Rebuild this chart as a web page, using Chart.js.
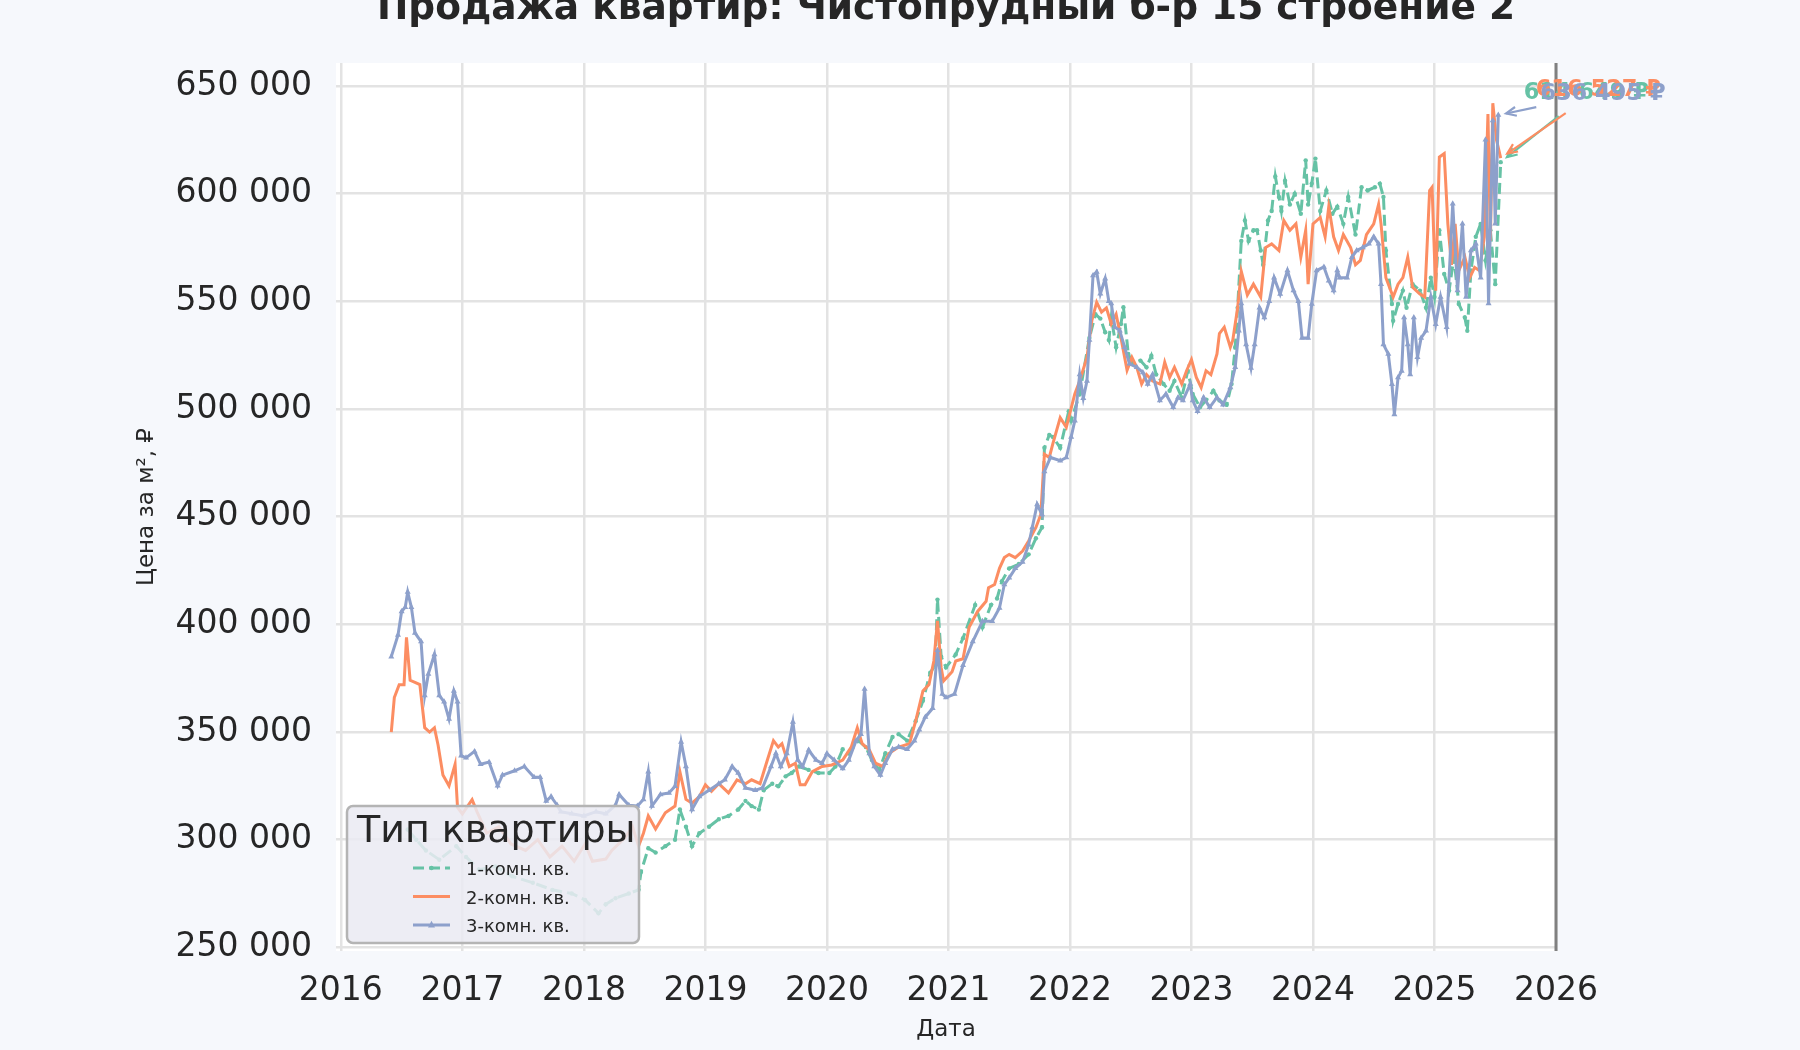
<!DOCTYPE html>
<html lang="ru">
<head>
<meta charset="utf-8">
<title>Продажа квартир: Чистопрудный б-р 15 строение 2</title>
<script src="https://cdn.jsdelivr.net/npm/chart.js@4.4.1/dist/chart.umd.min.js"></script>
<style>
    html, body { margin: 0; padding: 0; background: #f6f8fc; }
    #wrap { width: 1800px; height: 1050px; position: relative; }
</style>
</head>
<body>
<div id="wrap"><canvas id="priceChart" width="1800" height="1050"></canvas></div>
<script>
// Данные (год в долях, цена за м² в рублях)

const seriesNames = ['1-комн. кв.', '2-комн. кв.', '3-комн. кв.'];

const yearsOne = [2016.55,2016.62,2016.70,2016.81,2016.95,2017.03,2017.14,2017.27,2017.41,2017.58,
    2017.74,2017.90,2018.01,2018.12,2018.18,2018.26,2018.37,2018.45,2018.47,2018.53,
    2018.59,2018.67,2018.75,2018.79,2018.84,2018.89,2018.95,2019.03,2019.11,2019.19,
    2019.27,2019.33,2019.38,2019.44,2019.48,2019.55,2019.60,2019.66,2019.71,2019.77,
    2019.85,2019.93,2020.02,2020.07,2020.13,2020.18,2020.26,2020.32,2020.37,2020.43,
    2020.48,2020.54,2020.59,2020.66,2020.73,2020.79,2020.85,2020.89,2020.91,2020.94,
    2020.98,2021.06,2021.12,2021.22,2021.28,2021.35,2021.40,2021.44,2021.50,2021.58,
    2021.66,2021.72,2021.77,2021.79,2021.83,2021.86,2021.92,2021.99,2022.01,2022.08,
    2022.16,2022.21,2022.25,2022.29,2022.32,2022.34,2022.38,2022.42,2022.44,2022.48,
    2022.52,2022.58,2022.63,2022.67,2022.71,2022.77,2022.82,2022.86,2022.92,2022.97,
    2023.01,2023.07,2023.12,2023.18,2023.23,2023.29,2023.33,2023.36,2023.38,2023.41,
    2023.44,2023.47,2023.51,2023.54,2023.57,2023.59,2023.63,2023.66,2023.69,2023.72,
    2023.74,2023.77,2023.81,2023.85,2023.90,2023.94,2023.96,2023.99,2024.02,2024.06,
    2024.11,2024.16,2024.20,2024.25,2024.29,2024.35,2024.40,2024.45,2024.51,2024.55,
    2024.58,2024.60,2024.65,2024.66,2024.70,2024.74,2024.77,2024.82,2024.88,2024.93,
    2024.97,2025.00,2025.04,2025.08,2025.12,2025.16,2025.20,2025.25,2025.27,2025.30,
    2025.34,2025.38,2025.42,2025.46,2025.50,2025.545];
const pricesOne = [304700,300000,295000,290700,297000,292000,286000,287600,283000,280000,
    276700,275000,272000,265800,270000,272800,275000,276700,285000,296000,
    294000,297000,300000,314000,306000,297000,303000,306000,309500,311000,
    314000,318000,315600,314000,323000,326000,324800,329400,331000,334000,
    332400,331000,331000,334000,342000,340000,346000,343000,337000,332400,
    340000,347700,349000,346000,355000,364500,377500,381000,411500,385000,
    380000,386000,393600,409000,398600,409000,412000,420000,426000,428000,
    432500,440000,445000,482000,488000,487000,482000,499000,494600,507000,
    533000,544000,542000,535700,532000,542600,528700,539500,547300,525600,
    521000,522500,519400,524800,516000,511600,508500,513000,505400,517800,
    507000,500800,504000,508500,504000,502000,511600,528700,547000,578000,
    587600,578000,583000,583000,573600,567000,587600,592000,608000,598500,
    592000,606000,595000,600000,590700,615500,595000,604700,616300,592000,
    601500,590700,594000,586000,598500,581000,603000,601500,603000,604700,
    598500,573600,548800,541000,548800,555000,547000,558000,555000,547000,
    561000,552000,583000,562700,555000,570500,548800,542500,536300,564300,
    580000,586000,569000,583000,558000,614649];

const yearsTwo = [2016.415,2016.44,2016.48,2016.52,2016.54,2016.57,2016.61,2016.65,2016.69,2016.73,
    2016.77,2016.80,2016.84,2016.89,2016.94,2016.96,2017.00,2017.08,2017.12,2017.20,
    2017.30,2017.40,2017.52,2017.62,2017.72,2017.82,2017.92,2018.01,2018.07,2018.18,
    2018.23,2018.34,2018.40,2018.45,2018.49,2018.53,2018.59,2018.67,2018.75,2018.79,
    2018.84,2018.89,2018.95,2019.00,2019.05,2019.11,2019.19,2019.26,2019.33,2019.38,
    2019.45,2019.51,2019.56,2019.60,2019.63,2019.69,2019.74,2019.78,2019.82,2019.88,
    2019.96,2020.04,2020.13,2020.20,2020.25,2020.29,2020.35,2020.40,2020.46,2020.51,
    2020.59,2020.68,2020.73,2020.79,2020.84,2020.88,2020.91,2020.94,2020.96,2021.03,
    2021.06,2021.12,2021.17,2021.24,2021.31,2021.33,2021.38,2021.42,2021.46,2021.50,
    2021.55,2021.61,2021.66,2021.72,2021.76,2021.79,2021.83,2021.86,2021.92,2021.97,
    2022.04,2022.08,2022.14,2022.18,2022.22,2022.26,2022.30,2022.34,2022.38,2022.42,
    2022.47,2022.51,2022.55,2022.59,2022.63,2022.68,2022.74,2022.78,2022.82,2022.86,
    2022.92,2022.96,2023.00,2023.04,2023.08,2023.12,2023.16,2023.21,2023.23,2023.27,
    2023.32,2023.34,2023.38,2023.41,2023.46,2023.51,2023.57,2023.61,2023.66,2023.72,
    2023.76,2023.81,2023.86,2023.90,2023.94,2023.96,2024.00,2024.06,2024.10,2024.13,
    2024.17,2024.21,2024.25,2024.31,2024.35,2024.39,2024.44,2024.50,2024.54,2024.56,
    2024.60,2024.66,2024.70,2024.74,2024.78,2024.82,2024.88,2024.92,2024.96,2024.98,
    2025.01,2025.04,2025.08,2025.11,2025.14,2025.17,2025.20,2025.25,2025.29,2025.33,
    2025.37,2025.41,2025.44,2025.46,2025.48,2025.51,2025.545];
const pricesTwo = [350000,366000,372000,372000,394000,374000,373000,372000,352000,350000,
    352000,344000,330000,325000,335000,315000,312000,318600,313000,303000,
    306000,298000,295000,300000,292000,297000,290000,298000,290000,291000,
    295000,301000,306000,297000,303000,311000,305000,312500,315600,331600,
    318700,317000,320000,325500,322500,326000,321700,327800,326000,327800,
    326000,337000,346000,343000,344600,334000,335500,325500,325500,331600,
    334000,334700,337000,343000,352000,344600,341600,335500,334000,340000,
    343000,344600,355000,369000,372000,383000,401600,380000,373700,378000,
    383000,384000,398600,406000,410700,417000,418500,426000,431000,432500,
    431000,434000,438700,445000,451000,479000,477500,484000,496000,491500,
    507000,513000,524000,541000,549600,545000,547000,539500,544000,533000,
    518000,524000,519400,511600,516000,513000,511600,521700,514700,519400,
    511600,517800,523000,514700,510000,517800,516000,525600,535000,538000,
    528700,532000,547000,564000,553000,558000,552000,575000,576700,573600,
    587600,583000,586000,570500,583000,558000,586000,589000,580000,594000,
    580000,573600,581000,575000,567000,569000,581000,586000,595000,586000,
    561000,552000,558000,561000,570500,556500,553400,552000,601500,603000,
    555000,617000,618600,586000,567000,586000,564300,570500,561000,565800,
    564300,580000,637000,578000,642000,625000,616527];

const yearsThree = [2016.415,2016.47,2016.50,2016.53,2016.55,2016.58,2016.61,2016.66,2016.69,2016.72,
    2016.77,2016.81,2016.85,2016.89,2016.93,2016.96,2016.99,2017.03,2017.10,2017.15,
    2017.22,2017.29,2017.33,2017.43,2017.51,2017.59,2017.64,2017.69,2017.73,2017.78,
    2017.81,2017.90,2018.00,2018.10,2018.18,2018.26,2018.29,2018.37,2018.44,2018.49,
    2018.53,2018.56,2018.63,2018.70,2018.75,2018.80,2018.84,2018.89,2018.95,2019.03,
    2019.11,2019.16,2019.22,2019.27,2019.33,2019.41,2019.47,2019.54,2019.58,2019.62,
    2019.67,2019.72,2019.76,2019.80,2019.85,2019.91,2019.96,2020.00,2020.06,2020.13,
    2020.18,2020.24,2020.28,2020.31,2020.35,2020.39,2020.44,2020.48,2020.54,2020.59,
    2020.66,2020.72,2020.76,2020.81,2020.87,2020.91,2020.95,2020.98,2021.05,2021.12,
    2021.20,2021.28,2021.36,2021.42,2021.46,2021.50,2021.55,2021.61,2021.66,2021.69,
    2021.73,2021.77,2021.79,2021.84,2021.92,2021.97,2022.01,2022.04,2022.08,2022.11,
    2022.14,2022.16,2022.19,2022.22,2022.25,2022.29,2022.32,2022.34,2022.37,2022.41,
    2022.45,2022.49,2022.55,2022.60,2022.64,2022.68,2022.74,2022.79,2022.85,2022.89,
    2022.93,2022.99,2023.01,2023.05,2023.10,2023.15,2023.21,2023.26,2023.32,2023.36,
    2023.39,2023.41,2023.45,2023.49,2023.52,2023.56,2023.60,2023.64,2023.68,2023.73,
    2023.79,2023.84,2023.88,2023.91,2023.96,2023.99,2024.03,2024.09,2024.13,2024.17,
    2024.20,2024.22,2024.28,2024.32,2024.36,2024.41,2024.46,2024.50,2024.54,2024.56,
    2024.58,2024.62,2024.65,2024.67,2024.70,2024.73,2024.75,2024.78,2024.80,2024.83,
    2024.86,2024.89,2024.93,2024.97,2025.01,2025.05,2025.10,2025.15,2025.19,2025.23,
    2025.26,2025.30,2025.34,2025.38,2025.42,2025.445,2025.48,2025.50,2025.525];
const pricesThree = [385000,395000,406000,408000,415000,408000,396000,392000,367000,377000,
    386000,367000,364000,356000,369000,364000,339000,338000,341000,335000,
    336000,325000,330000,332000,334000,329000,329000,318000,320000,316000,
    313000,312000,311000,313000,312000,316000,321000,316000,315600,318700,
    331600,315600,321000,321700,324800,345400,334000,314000,320000,323000,
    326000,327800,334000,331000,324000,323000,324000,334000,340000,334000,
    340000,354600,337000,334000,341600,337000,335500,340000,337000,333000,
    337000,346000,349000,370000,340000,334000,330000,335500,342000,343000,
    342000,346000,351000,357000,361000,388000,367600,366000,367600,381000,
    392000,401400,401400,407600,418500,421600,426000,429000,437000,445000,
    455700,451000,471000,477500,476000,477500,487000,494600,516000,505000,
    513000,532000,562000,563600,553500,560500,550000,549000,538000,536400,
    528700,521000,519400,517000,511600,516000,504000,507000,500800,505400,
    504000,511600,504000,499000,505400,500800,505400,502000,510000,519400,
    536400,549000,530000,519000,530000,547000,542500,550000,561000,553400,
    564300,555000,550000,533000,533000,548800,564300,566000,559600,555000,
    564300,561000,561000,570500,573600,575000,576700,580000,576700,558000,
    530000,525500,511500,497500,514600,517700,542500,530000,516000,542500,
    524000,533000,536300,552000,539400,552000,538000,595300,555000,586000,
    552000,573600,576700,561000,625000,549000,634000,586000,636495];

const yearTicks = [2016, 2017, 2018, 2019, 2020, 2021, 2022, 2023, 2024, 2025, 2026];
const priceTicks = [250000, 300000, 350000, 400000, 450000, 500000, 550000, 600000, 650000];

// ---------------------------------------------------------------

const FONT = 'DejaVu Sans';
const INK = '#262626';
Chart.defaults.font.family = FONT;
Chart.defaults.color = INK;

function toPoints(xs, ys) {
    return xs.map((x, i) => ({ x: x, y: ys[i] }));
}

function spaced(v) {
    return String(Math.round(v)).replace(/\B(?=(\d{3})+(?!\d))/g, ' ');
}

// Белый фон области графика
const plotBackground = {
    id: 'plotBackground',
    beforeDraw(chart) {
        const { ctx, chartArea: a } = chart;
        ctx.save();
        ctx.fillStyle = '#ffffff';
        ctx.fillRect(a.left, a.top, a.right - a.left, a.bottom - a.top);
        ctx.restore();
    }
};

// Вертикальная линия на конце оси
const endLine = {
    id: 'endLine',
    afterDatasetsDraw(chart) {
        const { ctx, chartArea: a, scales } = chart;
        const x = scales.x.getPixelForValue(yearTicks[yearTicks.length - 1]);
        ctx.save();
        ctx.strokeStyle = '#808080';
        ctx.lineWidth = 3;
        ctx.beginPath();
        ctx.moveTo(x, a.top);
        ctx.lineTo(x, a.bottom);
        ctx.stroke();
        ctx.restore();
    }
};

// Подписи последних значений со стрелками
// текст (dx, dy) и начало стрелки (ax, ay) относительно последней точки
const noteOffsets = [
    { dx: 23, dy: -69, ax: 58, ay: -46 },
    { dx: 35, dy: -68, ax: 65, ay: -45 },
    { dx: 42, dy: -21, ax: 38, ay: -8 }
];

function drawArrow(ctx, x0, y0, x1, y1, color) {
    const ang = Math.atan2(y1 - y0, x1 - x0);
    const len = Math.hypot(x1 - x0, y1 - y0);
    const shrink = 8;
    const ex = x0 + Math.cos(ang) * (len - shrink);
    const ey = y0 + Math.sin(ang) * (len - shrink);
    ctx.strokeStyle = color;
    ctx.lineWidth = 2.2;
    ctx.beginPath();
    ctx.moveTo(x0, y0);
    ctx.lineTo(ex, ey);
    ctx.stroke();
    const h = 11, spread = 0.42;
    ctx.beginPath();
    ctx.moveTo(ex - Math.cos(ang - spread) * h, ey - Math.sin(ang - spread) * h);
    ctx.lineTo(ex, ey);
    ctx.lineTo(ex - Math.cos(ang + spread) * h, ey - Math.sin(ang + spread) * h);
    ctx.stroke();
}

const lastValueNotes = {
    id: 'lastValueNotes',
    afterDatasetsDraw(chart) {
        const { ctx, scales } = chart;
        ctx.save();
        chart.data.datasets.forEach((ds, i) => {
            const last = ds.data[ds.data.length - 1];
            const px = scales.x.getPixelForValue(last.x);
            const py = scales.y.getPixelForValue(last.y);
            const o = noteOffsets[i];
            drawArrow(ctx, px + o.ax, py + o.ay, px, py, ds.borderColor);
            ctx.fillStyle = ds.borderColor;
            ctx.font = 'bold 22.5px "' + FONT + '"';
            ctx.textAlign = 'left';
            ctx.textBaseline = 'middle';
            ctx.fillText(spaced(last.y) + ' ₽', px + o.dx, py + o.dy);
        });
        ctx.restore();
    }
};

// Легенда внутри графика (левый нижний угол)
const boxLegend = {
    id: 'boxLegend',
    afterDraw(chart) {
        const ctx = chart.ctx;
        const bx = 347, by = 806, bw = 292, bh = 137, r = 6;
        ctx.save();
        ctx.beginPath();
        ctx.moveTo(bx + r, by);
        ctx.arcTo(bx + bw, by, bx + bw, by + bh, r);
        ctx.arcTo(bx + bw, by + bh, bx, by + bh, r);
        ctx.arcTo(bx, by + bh, bx, by, r);
        ctx.arcTo(bx, by, bx + bw, by, r);
        ctx.closePath();
        ctx.fillStyle = 'rgba(234, 234, 242, 0.86)';
        ctx.fill();
        ctx.strokeStyle = '#b4b4b4';
        ctx.lineWidth = 2.5;
        ctx.stroke();

        ctx.fillStyle = INK;
        ctx.textAlign = 'left';
        ctx.textBaseline = 'alphabetic';
        ctx.font = '38px "' + FONT + '"';
        ctx.fillText('Тип квартиры', 357, 842);

        chart.data.datasets.forEach((ds, i) => {
            const base = 875 + i * 28.5;
            const ly = base - 7;
            ctx.strokeStyle = ds.borderColor;
            ctx.lineWidth = ds.borderWidth;
            ctx.setLineDash(ds.borderDash || []);
            ctx.beginPath();
            ctx.moveTo(413, ly);
            ctx.lineTo(450, ly);
            ctx.stroke();
            ctx.setLineDash([]);
            ctx.fillStyle = ds.borderColor;
            const cx = 431.5;
            if (ds.pointStyle === 'triangle') {
                const s = ds.pointRadius;
                ctx.beginPath();
                ctx.moveTo(cx, ly - s * 1.2);
                ctx.lineTo(cx + s, ly + s * 0.7);
                ctx.lineTo(cx - s, ly + s * 0.7);
                ctx.closePath();
                ctx.fill();
            } else if (ds.pointRadius > 0) {
                ctx.beginPath();
                ctx.arc(cx, ly, ds.pointRadius, 0, Math.PI * 2);
                ctx.fill();
            }
            ctx.fillStyle = INK;
            ctx.font = '18px "' + FONT + '"';
            ctx.fillText(ds.label, 466, base);
        });
        ctx.restore();
    }
};

// Заголовок (обрезан сверху, как в оригинале)
const pageTitle = {
    id: 'pageTitle',
    afterDraw(chart) {
        const { ctx, chartArea: a } = chart;
        ctx.save();
        ctx.fillStyle = INK;
        ctx.font = 'bold 37.5px "' + FONT + '"';
        ctx.textAlign = 'center';
        ctx.textBaseline = 'alphabetic';
        ctx.fillText('Продажа квартир: Чистопрудный б-р 15 строение 2', (a.left + a.right) / 2, 19);
        ctx.restore();
    }
};

const ctx = document.getElementById('priceChart').getContext('2d');
const chart = new Chart(ctx, {
    type: 'line',
    data: {
        datasets: [{
            label: seriesNames[0],
            data: toPoints(yearsOne, pricesOne),
            borderColor: '#66c2a5',
            backgroundColor: '#66c2a5',
            borderWidth: 3,
            borderDash: [11, 5],
            pointStyle: 'circle',
            pointRadius: 2.2,
            pointBorderWidth: 0,
            order: 3
        }, {
            label: seriesNames[1],
            data: toPoints(yearsTwo, pricesTwo),
            borderColor: '#fc8d62',
            backgroundColor: '#fc8d62',
            borderWidth: 3,
            pointRadius: 0,
            order: 2
        }, {
            label: seriesNames[2],
            data: toPoints(yearsThree, pricesThree),
            borderColor: '#8da0cb',
            backgroundColor: '#8da0cb',
            borderWidth: 3,
            pointStyle: 'triangle',
            pointRadius: 3.5,
            pointBorderWidth: 0,
            order: 1
        }]
    },
    options: {
        responsive: false,
        animation: false,
        devicePixelRatio: 1,
        layout: { padding: { left: 0, top: 63, right: 244, bottom: 0 } },
        plugins: {
            legend: { display: false },
            tooltip: { enabled: false },
            title: { display: false }
        },
        scales: {
            x: {
                type: 'linear',
                min: 2015.96,
                max: yearTicks[yearTicks.length - 1],
                afterFit: s => { s.height = 99; },
                afterBuildTicks: s => { s.ticks = yearTicks.map(v => ({ value: v })); },
                ticks: {
                    autoSkip: false,
                    maxRotation: 0,
                    padding: 21,
                    color: INK,
                    font: { size: 33 },
                    callback: v => String(v)
                },
                grid: { color: '#e3e3e3', lineWidth: 2.5, drawTicks: false },
                border: { display: false },
                title: {
                    display: true,
                    text: 'Дата',
                    color: INK,
                    font: { size: 23 },
                    padding: { top: 0, bottom: 6 }
                }
            },
            y: {
                type: 'linear',
                min: 248300,
                max: 660700,
                afterFit: s => { s.width = 336; },
                afterBuildTicks: s => { s.ticks = priceTicks.map(v => ({ value: v })); },
                ticks: {
                    autoSkip: false,
                    padding: 24,
                    color: INK,
                    font: { size: 33 },
                    callback: v => spaced(v)
                },
                grid: { color: '#e3e3e3', lineWidth: 2.5, drawTicks: false },
                border: { display: false },
                title: {
                    display: true,
                    text: 'Цена за м², ₽',
                    color: INK,
                    font: { size: 23 },
                    padding: { top: 133, bottom: 0 }
                }
            }
        }
    },
    plugins: [plotBackground, endLine, lastValueNotes, boxLegend, pageTitle]
});
</script>
</body>
</html>
